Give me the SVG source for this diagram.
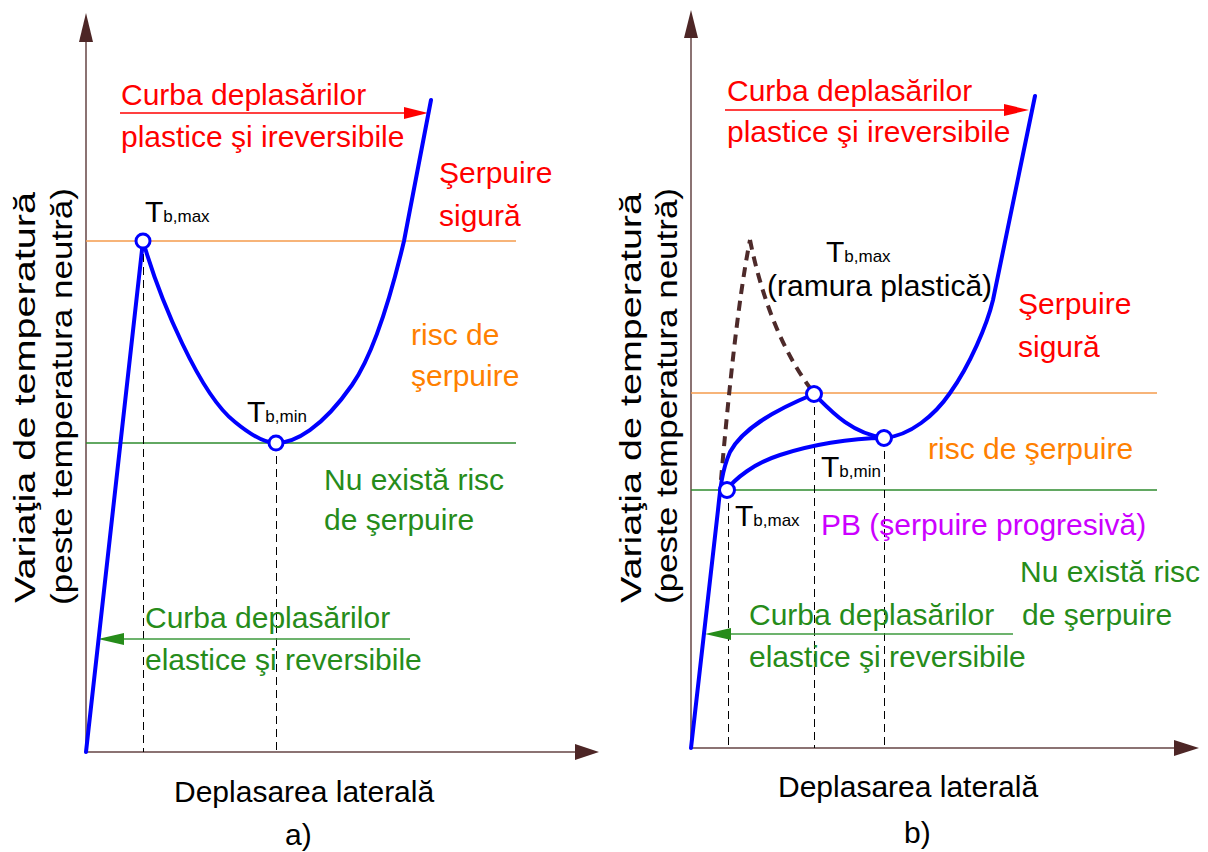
<svg xmlns="http://www.w3.org/2000/svg" width="1208" height="852" viewBox="0 0 1208 852">
<style>
text{font-family:"Liberation Sans",Arial,sans-serif;font-size:30px}
.k{fill:#000}
.red{fill:#ff0000}
.org{fill:#ff8000}
.grn{fill:#268c1a}
.pur{fill:#cc00ff}
.sub{font-size:17px}
.axis{stroke:#8b7373;stroke-width:2;fill:none}
.ahead{fill:#4d2626}
.orl{stroke:#f59b4c;stroke-width:1.6}
.grl{stroke:#2e8b2e;stroke-width:1.4}
.vd{stroke:#000;stroke-width:1;stroke-dasharray:8 5;fill:none}
.blue{stroke:#0000ff;stroke-width:4;fill:none;stroke-linecap:round;stroke-linejoin:round}
.pt{stroke:#0000ff;stroke-width:3;fill:#fff}
.bd{stroke:#4d2a2a;stroke-width:4;fill:none;stroke-dasharray:10 7}
.rarr{stroke:#ff0000;stroke-width:1.6}
.garr{stroke:#3c9a3c;stroke-width:1.6}
</style>

<g id="panel-a">
  <g id="a-axes">
    <line class="axis" x1="86" y1="752" x2="86" y2="40"/>
    <polygon class="ahead" points="86,13 79,42 93,42"/>
    <line class="axis" x1="86" y1="752" x2="577" y2="752"/>
    <polygon class="ahead" points="599,752 575,744 575,760"/>
  </g>
  <g id="a-levels">
    <line class="orl" x1="86" y1="241" x2="516" y2="241"/>
    <line class="grl" x1="86" y1="443" x2="516" y2="443"/>
  </g>
  <g id="a-dashes">
    <line class="vd" x1="143.5" y1="241" x2="143.5" y2="752"/>
    <line class="vd" x1="276.5" y1="443" x2="276.5" y2="752"/>
  </g>
  <g id="a-connectors">
    <line class="rarr" x1="120" y1="113" x2="406" y2="113"/>
    <polygon fill="#ff0000" points="428,113 404,107 404,119"/>
    <line class="garr" x1="410" y1="639" x2="120" y2="639"/>
    <polygon fill="#268c1a" points="98,639 124,633 124,645"/>
  </g>
  <g id="a-curve">
    <path class="blue" d="M86,752 L143,241 C160,300 200,395 235,422 C252,436 265,443 276,443 C295,443 322,428 352,385 C373,355 390,300 404,241 L431,100"/>
    <circle class="pt" cx="143" cy="241" r="7"/>
    <circle class="pt" cx="276" cy="443" r="7"/>
  </g>
  <g id="a-labels">
    <text class="red" x="121" y="105">Curba deplasărilor</text>
    <text class="red" x="121" y="147">plastice şi ireversibile</text>
    <text class="red" x="439" y="183">Şerpuire</text>
    <text class="red" x="439" y="226">sigură</text>
    <text class="k" x="145" y="222">T<tspan class="sub">b,max</tspan></text>
    <text class="org" x="411" y="345">risc de</text>
    <text class="org" x="411" y="386">şerpuire</text>
    <text class="k" x="247" y="422">T<tspan class="sub">b,min</tspan></text>
    <text class="grn" x="324" y="490">Nu există risc</text>
    <text class="grn" x="324" y="530">de şerpuire</text>
    <text class="grn" x="145" y="628">Curba deplasărilor</text>
    <text class="grn" x="145" y="670">elastice şi reversibile</text>
    <text class="k" x="174" y="802">Deplasarea laterală</text>
    <text class="k" x="285" y="845">a)</text>
    <text class="k" transform="translate(35,603) rotate(-90)" textLength="411" lengthAdjust="spacingAndGlyphs">Variaţia de temperatură</text>
    <text class="k" transform="translate(72,605) rotate(-90)" textLength="417" lengthAdjust="spacingAndGlyphs">(peste temperatura neutră)</text>
  </g>
</g>

<g id="panel-b">
  <g id="b-axes">
    <line class="axis" x1="691" y1="748" x2="691" y2="35"/>
    <polygon class="ahead" points="691,10 684,38 698,38"/>
    <line class="axis" x1="691" y1="748" x2="1176" y2="748"/>
    <polygon class="ahead" points="1199,748 1174,740 1174,756"/>
  </g>
  <g id="b-levels">
    <line class="orl" x1="691" y1="393" x2="1157" y2="393"/>
    <line class="grl" x1="691" y1="490" x2="1157" y2="490"/>
  </g>
  <g id="b-dashes">
    <line class="vd" x1="728.5" y1="490" x2="728.5" y2="748"/>
    <line class="vd" x1="814.5" y1="394" x2="814.5" y2="748"/>
    <line class="vd" x1="884.5" y1="438" x2="884.5" y2="748"/>
  </g>
  <g id="b-connectors">
    <line class="rarr" x1="725" y1="110" x2="1006" y2="110"/>
    <polygon fill="#ff0000" points="1029,110 1004,104 1004,116"/>
    <line class="garr" x1="1013" y1="634" x2="726" y2="634"/>
    <polygon fill="#268c1a" points="705,634 731,628 731,640"/>
  </g>
  <g id="b-plastic-branch">
    <path class="bd" d="M721,480 C728,400 738,300 750,240"/>
    <path class="bd" d="M750,240 C760,290 780,350 814,393"/>
  </g>
  <g id="b-curve">
    <path class="blue" d="M691,748 L718,510 C720,490 722,470 730,452 C742,430 770,412 814,394"/>
    <path class="blue" d="M725,492 C735,478 755,463 780,455 C810,445 850,438 884,438"/>
    <path class="blue" d="M814,394 C830,410 850,433 884,438"/>
    <path class="blue" d="M884,438 C910,436 935,415 950,393 C970,365 987,325 993,300 L1035,96"/>
    <circle class="pt" cx="814" cy="394" r="7.5"/>
    <circle class="pt" cx="884" cy="438" r="7.5"/>
    <circle class="pt" cx="727" cy="490" r="7.5"/>
  </g>
  <g id="b-labels">
    <text class="red" x="727" y="101">Curba deplasărilor</text>
    <text class="red" x="727" y="142">plastice şi ireversibile</text>
    <text class="k" x="826" y="262">T<tspan class="sub">b,max</tspan></text>
    <text class="k" x="767" y="296">(ramura plastică)</text>
    <text class="red" x="1018" y="314">Şerpuire</text>
    <text class="red" x="1018" y="357">sigură</text>
    <text class="org" x="928" y="459">risc de şerpuire</text>
    <text class="k" x="821" y="477">T<tspan class="sub">b,min</tspan></text>
    <text class="k" x="735" y="526">T<tspan class="sub">b,max</tspan></text>
    <text class="pur" x="821" y="535">PB (şerpuire progresivă)</text>
    <text class="grn" x="1020" y="582">Nu există risc</text>
    <text class="grn" x="1022" y="625">de şerpuire</text>
    <text class="grn" x="749" y="625">Curba deplasărilor</text>
    <text class="grn" x="749" y="667">elastice şi reversibile</text>
    <text class="k" x="778" y="797">Deplasarea laterală</text>
    <text class="k" x="904" y="843">b)</text>
    <text class="k" transform="translate(641,603) rotate(-90)" textLength="410" lengthAdjust="spacingAndGlyphs">Variaţia de temperatură</text>
    <text class="k" transform="translate(677,604) rotate(-90)" textLength="416" lengthAdjust="spacingAndGlyphs">(peste temperatura neutră)</text>
  </g>
</g>
</svg>
